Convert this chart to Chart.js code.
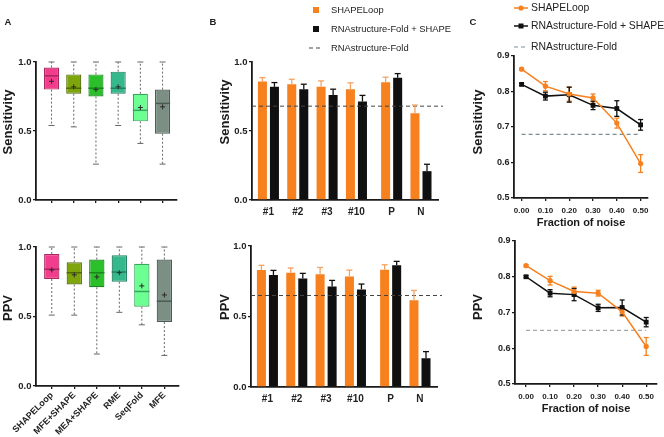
<!DOCTYPE html>
<html><head><meta charset="utf-8">
<script src="https://cdn.jsdelivr.net/npm/chart.js@4/dist/chart.umd.min.js"></script>
<style>
html,body{margin:0;padding:0;background:#fff;}
#wrap{position:relative;width:664px;height:437px;overflow:hidden;background:#fff;}
canvas{position:absolute;left:0;top:0;}
</style></head><body>
<div id="wrap">
<canvas id="aTop" width="664" height="437"></canvas>
<canvas id="aBot" width="664" height="437"></canvas>
<canvas id="bTop" width="664" height="437"></canvas>
<canvas id="bBot" width="664" height="437"></canvas>
<canvas id="cTop" width="664" height="437"></canvas>
<canvas id="cBot" width="664" height="437"></canvas>
</div>
<script>
// ---------- Panel A data (box plots) ----------
const boxCategories = ['SHAPELoop','MFE+SHAPE','MEA+SHAPE','RME','SeqFold','MFE'];
const boxPositions = [1,2,3,4,5,6];
const sensMin  = [0.54, 0.53, 0.26, 0.54, 0.41, 0.26];
const sensQ1   = [0.80, 0.77, 0.75, 0.77, 0.57, 0.48];
const sensMed  = [0.90, 0.81, 0.81, 0.81, 0.65, 0.70];
const sensQ3   = [0.96, 0.91, 0.91, 0.93, 0.77, 0.80];
const sensMax  = [1.00, 1.00, 1.00, 1.00, 1.00, 1.00];
const sensMean = [0.86, 0.82, 0.80, 0.82, 0.67, 0.675];
const ppvMin   = [0.51, 0.51, 0.23, 0.53, 0.44, 0.22];
const ppvQ1    = [0.77, 0.73, 0.71, 0.75, 0.57, 0.46];
const ppvMed   = [0.84, 0.815, 0.815, 0.82, 0.68, 0.61];
const ppvQ3    = [0.95, 0.89, 0.91, 0.94, 0.88, 0.91];
const ppvMax   = [1.00, 1.00, 1.00, 1.00, 1.00, 1.00];
const ppvMean  = [0.835, 0.80, 0.785, 0.815, 0.72, 0.655];

// ---------- Panel B data (grouped bars) ----------
const groupLabels = ['#1','#2','#3','#10','P','N'];
const groupPositions = [1,2,3,4,5.2,6.2];
const bSensShape    = [0.858, 0.839, 0.820, 0.803, 0.853, 0.628];
const bSensShapeErr = [0.029, 0.036, 0.043, 0.046, 0.037, 0.060];
const bSensRna      = [0.820, 0.803, 0.760, 0.714, 0.885, 0.209];
const bSensRnaErr   = [0.031, 0.036, 0.043, 0.044, 0.031, 0.050];
const bSensFold     = 0.68;
const bPpvShape     = [0.829, 0.810, 0.800, 0.784, 0.832, 0.616];
const bPpvShapeErr  = [0.034, 0.034, 0.048, 0.045, 0.035, 0.069];
const bPpvRna       = [0.794, 0.770, 0.713, 0.692, 0.863, 0.204];
const bPpvRnaErr    = [0.033, 0.036, 0.043, 0.038, 0.028, 0.047];
const bPpvFold      = 0.649;

// ---------- Panel C data (noise lines) ----------
const noise = [0.0, 0.1, 0.2, 0.3, 0.4, 0.5];
const cSensShape    = [0.863, 0.815, 0.793, 0.782, 0.711, 0.597];
const cSensShapeErr = [0.003, 0.013, 0.020, 0.011, 0.014, 0.025];
const cSensRna      = [0.820, 0.787, 0.791, 0.761, 0.752, 0.706];
const cSensRnaErr   = [0.003, 0.011, 0.021, 0.012, 0.022, 0.015];
const cSensFold     = 0.679;
const cPpvShape     = [0.831, 0.789, 0.759, 0.754, 0.702, 0.605];
const cPpvShapeErr  = [0.003, 0.012, 0.012, 0.008, 0.012, 0.025];
const cPpvRna       = [0.800, 0.754, 0.750, 0.713, 0.714, 0.673];
const cPpvRnaErr    = [0.003, 0.010, 0.017, 0.010, 0.021, 0.013];
const cPpvFold      = 0.650;

const seriesNames = ['SHAPELoop','RNAstructure-Fold + SHAPE','RNAstructure-Fold'];

// ---------- styles ----------
const FONT = "'Liberation Sans', Arial, Helvetica, sans-serif";
const ORANGE = '#F7801F', ORANGE_ERR = '#F4A262', BLACK = '#101010';
const boxFill = ['#F23C8C','#7FA50C','#2CBF2C','#35B98C','#6CFF92','#7B8F84'];
const boxEdge = ['#A8275F','#4F6B05','#1A861C','#217F60','#3AA55E','#4B5D53'];
const AX = '#1a1a1a';
const TXT = '#222';

Chart.defaults.font.family = FONT;
Chart.defaults.color = TXT;
Chart.defaults.animation = false;
Chart.defaults.responsive = false;
Chart.defaults.devicePixelRatio = 1;
Chart.defaults.events = [];
Chart.defaults.plugins.legend.display = false;
Chart.defaults.plugins.tooltip.enabled = false;

// ---------- plugins ----------
function textPlugin(items){
  return { id:'panelText', afterDraw(chart){
    const ctx = chart.ctx;
    items.forEach(it=>{
      ctx.save();
      ctx.font = `${it.weight||'bold'} ${it.size}px ${FONT}`;
      ctx.fillStyle = it.color||'#1a1a1a';
      ctx.textAlign = it.align||'center';
      ctx.textBaseline = 'middle';
      ctx.translate(it.x,it.y);
      if (it.rot) ctx.rotate(it.rot);
      ctx.fillText(it.text,0,0);
      ctx.restore();
    });
  }};
}
function line(ctx,x1,y1,x2,y2){ctx.beginPath();ctx.moveTo(x1,y1);ctx.lineTo(x2,y2);ctx.stroke();}

const boxPlugin = { id:'boxDetail', afterDatasetsDraw(chart){
  const ctx = chart.ctx, ys = chart.scales.y;
  chart.data.datasets.forEach((ds,di)=>{
    if(!ds.box) return;
    const meta = chart.getDatasetMeta(di);
    meta.data.forEach((bar,i)=>{
      const b = ds.box, x = bar.x, half = bar.width/2;
      const pMin=ys.getPixelForValue(b.min[i]), pMax=ys.getPixelForValue(b.max[i]);
      const pQ1=ys.getPixelForValue(b.q1[i]), pQ3=ys.getPixelForValue(b.q3[i]);
      const pMed=ys.getPixelForValue(b.med[i]), pMean=ys.getPixelForValue(b.mean[i]);
      ctx.save();
      ctx.strokeStyle='#666'; ctx.lineWidth=1; ctx.setLineDash([2,2]);
      line(ctx,x,pQ3,x,pMax); line(ctx,x,pQ1,x,pMin);
      ctx.setLineDash([]);
      line(ctx,x-3,pMax,x+3,pMax); line(ctx,x-3,pMin,x+3,pMin);
      ctx.strokeStyle=boxEdge[i]; ctx.lineWidth=1.5;
      line(ctx,x-half,pMed,x+half,pMed);
      ctx.strokeStyle='#2a2a2a'; ctx.lineWidth=1;
      line(ctx,x-2.5,pMean,x+2.5,pMean); line(ctx,x,pMean-2.5,x,pMean+2.5);
      ctx.restore();
    });
  });
}};

function errPlugin(upOnly, cap){
  const draw = (chart)=>{
    const ctx = chart.ctx, ys = chart.scales.y;
    chart.data.datasets.forEach((ds,di)=>{
      if(!ds.errors) return;
      const meta = chart.getDatasetMeta(di);
      meta.data.forEach((el,i)=>{
        const v = ds.data[i].y, e = ds.errors[i];
        const top = ys.getPixelForValue(v+e);
        const bot = upOnly ? el.y : ys.getPixelForValue(v-e);
        ctx.save();
        ctx.strokeStyle = ds.errColor; ctx.lineWidth = 1.3;
        line(ctx,el.x,bot,el.x,top);
        line(ctx,el.x-cap,top,el.x+cap,top);
        if(!upOnly) line(ctx,el.x-cap,bot,el.x+cap,bot);
        ctx.restore();
      });
    });
  };
  return upOnly ? {id:'errBars', afterDatasetsDraw:draw} : {id:'errBars', beforeDatasetsDraw:draw};
}

function legendB(ys){
  return { id:'legB', afterDraw(chart){
    const ctx = chart.ctx, ds = chart.data.datasets;
    ctx.save();
    ctx.font = `9.4px ${FONT}`; ctx.textBaseline='middle'; ctx.textAlign='left';
    [0,1].forEach(k=>{ ctx.fillStyle = ds[k].backgroundColor; ctx.fillRect(313,ys[k]-3,6,6);
      ctx.fillStyle=TXT; ctx.fillText(ds[k].label,331,ys[k]); });
    ctx.strokeStyle = ds[2].borderColor; ctx.lineWidth=1; ctx.setLineDash([4,3]);
    line(ctx,309,ys[2],323,ys[2]); ctx.setLineDash([]);
    ctx.fillStyle=TXT; ctx.fillText(ds[2].label,331,ys[2]);
    ctx.restore();
  }};
}
function legendC(ys){
  return { id:'legC', afterDraw(chart){
    const ctx = chart.ctx, ds = chart.data.datasets;
    ctx.save();
    ctx.font = `10.4px ${FONT}`; ctx.textBaseline='middle'; ctx.textAlign='left';
    [0,1].forEach(k=>{
      ctx.strokeStyle = ds[k].borderColor; ctx.lineWidth=1.5;
      line(ctx,514,ys[k],528,ys[k]);
      ctx.fillStyle = ds[k].borderColor;
      if(k===0){ ctx.beginPath(); ctx.arc(521,ys[k],2.6,0,Math.PI*2); ctx.fill(); }
      else ctx.fillRect(518.5,ys[k]-2.5,5,5);
      ctx.fillStyle=TXT; ctx.fillText(ds[k].label,531,ys[k]);
    });
    ctx.strokeStyle = ds[2].borderColor; ctx.lineWidth=1.2; ctx.setLineDash([4,3]);
    line(ctx,514,ys[2],528,ys[2]); ctx.setLineDash([]);
    ctx.fillStyle=TXT; ctx.fillText(ds[2].label,531,ys[2]);
    ctx.restore();
  }};
}

// ---------- axis helpers ----------
function yAxis(min,max,step,width,size){
  return { type:'linear', min, max,
    ticks:{stepSize:step, font:{size, weight:'bold'}, color:TXT, padding:1.5, callback:v=>Number(v).toFixed(1)},
    grid:{display:true, drawOnChartArea:false, drawTicks:true, tickLength:3, color:AX, lineWidth:1.3},
    border:{display:true, color:AX, width:1.8},
    afterFit:s=>{s.width=width;} };
}

// ---------- Panel A ----------
function boxChart(id, q1, q3, med, mn, mx, mean, showLabels, pad, xh, texts){
  const xAxis = { type:'linear', min:0.3, max:6.65, offset:false,
    afterBuildTicks:s=>{ s.ticks = boxPositions.map(v=>({value:v})); },
    ticks:{ autoSkip:false, display:showLabels, minRotation:45, maxRotation:45, padding:1,
      font:{size:9, weight:'bold'}, color:TXT, callback:(v,i)=>boxCategories[i] },
    grid:{display:true, drawOnChartArea:false, drawTicks:true, tickLength:3, color:AX, lineWidth:1.3, offset:false},
    border:{display:true, color:AX, width:1.8},
    afterFit:s=>{s.height=xh;} };
  return new Chart(document.getElementById(id), {
    type:'bar',
    data:{ datasets:[{
      data: boxPositions.map((x,i)=>({x, y:[q1[i], q3[i]]})),
      backgroundColor: boxFill, borderColor: boxEdge, borderWidth:1.2, borderSkipped:false,
      categoryPercentage:1, barPercentage:0.68,
      box:{q1, q3, med, min:mn, max:mx, mean}
    }]},
    options:{ layout:{padding:pad}, scales:{ x:xAxis, y:yAxis(0,1,0.5,36,9.5) } },
    plugins:[boxPlugin, textPlugin(texts)]
  });
}
boxChart('aTop', sensQ1, sensQ3, sensMed, sensMin, sensMax, sensMean, false,
  {left:0, top:62, right:487, bottom:227}, 10,
  [{text:'A', x:8, y:22, size:9.5},{text:'Sensitivity', x:8, y:122, size:13, rot:-Math.PI/2}]);
boxChart('aBot', ppvQ1, ppvQ3, ppvMed, ppvMin, ppvMax, ppvMean, true,
  {left:0, top:247, right:485, bottom:1}, 50,
  [{text:'PPV', x:8, y:308, size:13, rot:-Math.PI/2}]);

// ---------- Panel B ----------
function barChart(id, shape, shapeErr, rna, rnaErr, fold, pad, extraPlugins){
  const xAxis = { type:'linear', min:0.44, max:6.78, offset:false,
    afterBuildTicks:s=>{ s.ticks = groupPositions.map(v=>({value:v})); },
    ticks:{ autoSkip:false, maxRotation:0, padding:6, font:{size:10, weight:'bold'}, color:TXT,
      callback:(v,i)=>groupLabels[i] },
    grid:{display:true, drawOnChartArea:false, drawTicks:false, offset:false},
    border:{display:true, color:AX, width:1.8},
    afterFit:s=>{s.height=20;} };
  return new Chart(document.getElementById(id), {
    type:'bar',
    data:{ datasets:[
      { label:seriesNames[0], data:groupPositions.map((x,i)=>({x, y:shape[i]})), backgroundColor:ORANGE,
        categoryPercentage:0.82, barPercentage:0.75, errors:shapeErr, errColor:ORANGE_ERR, order:1 },
      { label:seriesNames[1], data:groupPositions.map((x,i)=>({x, y:rna[i]})), backgroundColor:BLACK,
        categoryPercentage:0.82, barPercentage:0.75, errors:rnaErr, errColor:BLACK, order:1 },
      { type:'line', label:seriesNames[2], data:[{x:0.44, y:fold},{x:6.95, y:fold}],
        borderColor:'#444', borderWidth:1, borderDash:[4,3], pointRadius:0, clip:false, order:-1 }
    ]},
    options:{ layout:{padding:pad}, scales:{ x:xAxis, y:yAxis(0,1,0.5,30,9.5) } },
    plugins:[errPlugin(true,3)].concat(extraPlugins)
  });
}
barChart('bTop', bSensShape, bSensShapeErr, bSensRna, bSensRnaErr, bSensFold,
  {left:222, top:62, right:226, bottom:217},
  [legendB([10,29,48]), textPlugin([{text:'B', x:213, y:22, size:9.5},{text:'Sensitivity', x:225, y:112, size:13, rot:-Math.PI/2}])]);
barChart('bBot', bPpvShape, bPpvShapeErr, bPpvRna, bPpvRnaErr, bPpvFold,
  {left:221, top:246, right:227, bottom:30},
  [textPlugin([{text:'PPV', x:225, y:307, size:13, rot:-Math.PI/2}])]);

// ---------- Panel C ----------
function lineChart(id, shape, shapeErr, rna, rnaErr, fold, foldColor, xmin, xmax, pad, extraPlugins){
  const xAxis = { type:'linear', min:xmin, max:xmax,
    afterBuildTicks:s=>{ s.ticks = noise.map(v=>({value:v})); },
    ticks:{ autoSkip:false, maxRotation:0, padding:5, font:{size:8, weight:'bold'}, color:TXT,
      callback:(v)=>Number(v).toFixed(2) },
    grid:{display:true, drawOnChartArea:false, drawTicks:true, tickLength:3, color:AX, lineWidth:1.3},
    border:{display:true, color:AX, width:1.8},
    title:{display:true, text:'Fraction of noise', font:{size:11, weight:'bold'}, color:'#1a1a1a', padding:0},
    afterFit:s=>{s.height=32;} };
  return new Chart(document.getElementById(id), {
    type:'line',
    data:{ datasets:[
      { label:seriesNames[0], data:noise.map((x,i)=>({x, y:shape[i]})), borderColor:ORANGE, backgroundColor:ORANGE,
        borderWidth:1.5, pointRadius:2.6, pointStyle:'circle', pointBorderWidth:0, errors:shapeErr, errColor:ORANGE },
      { label:seriesNames[1], data:noise.map((x,i)=>({x, y:rna[i]})), borderColor:BLACK, backgroundColor:BLACK,
        borderWidth:1.5, pointRadius:3.4, pointStyle:'rect', pointBorderWidth:0, errors:rnaErr, errColor:BLACK },
      { label:seriesNames[2], data:[{x:noise[0], y:fold},{x:noise[noise.length-1], y:fold}],
        borderColor:foldColor, borderWidth:1.3, borderDash:[4,3], pointRadius:0 }
    ]},
    options:{ layout:{padding:pad}, scales:{ x:xAxis, y:yAxis(0.5,0.9,0.1,30,9) } },
    plugins:[errPlugin(false,2.5)].concat(extraPlugins)
  });
}
lineChart('cTop', cSensShape, cSensShapeErr, cSensRna, cSensRnaErr, cSensFold, '#7A8D98', -0.032, 0.531,
  {left:484, top:56, right:16, bottom:207},
  [legendC([8,26,47]), textPlugin([{text:'C', x:473, y:22, size:9.5},{text:'Sensitivity', x:478, y:122, size:13, rot:-Math.PI/2}])]);
lineChart('cBot', cPpvShape, cPpvShapeErr, cPpvRna, cPpvRnaErr, cPpvFold, '#A8A8A8', -0.046, 0.545,
  {left:485, top:241, right:7, bottom:21},
  [textPlugin([{text:'PPV', x:478, y:307, size:13, rot:-Math.PI/2}])]);
</script>
</body></html>
